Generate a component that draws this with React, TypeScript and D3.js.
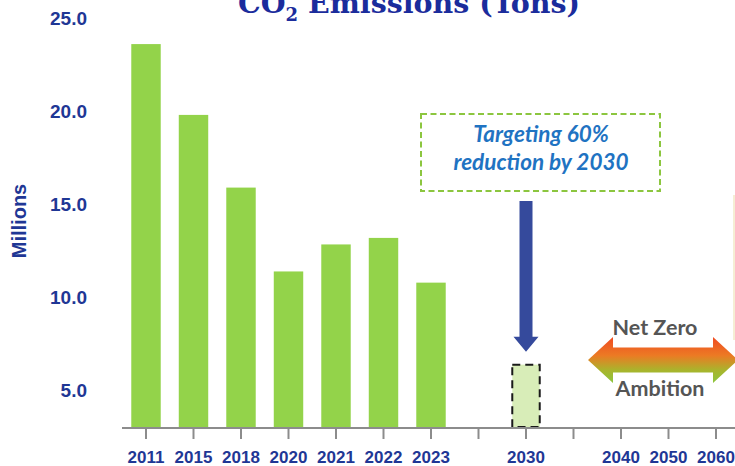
import React from "react";
import * as d3 from "d3";

// Emissions by year, in millions of tons
const years = ["2011", "2015", "2018", "2020", "2021", "2022", "2023"];
const emissions = [23.6, 19.8, 15.9, 11.4, 12.85, 13.2, 10.8];
const targetYear = "2030";
const targetValue = 6.4;
// Axis slots, gaps included so the future years sit apart
const slots = ["2011", "2015", "2018", "2020", "2021", "2022", "2023", "gap1", "2030", "gap2", "2040", "2050", "2060"];
const yTicks = [5, 10, 15, 20, 25];

const W = 735;
const H = 466;

export default function App() {
  const x = d3
    .scaleBand<string>()
    .domain(slots)
    .range([122.25, 739.75])
    .paddingInner(0.38)
    .paddingOuter(0.19);
  const y = d3.scaleLinear().domain([3, 25]).range([428, 18]);
  const base = y(3);
  const bw = x.bandwidth();
  const cx = (s: string) => (x(s) as number) + bw / 2;

  const blue = "#1f3795";
  const green = "#93d34a";

  // callout arrow pointing at the 2030 target
  const ax = cx(targetYear);
  const tipY = y(targetValue) - 13;
  const shaftTop = 201;
  const headLen = 15;
  const shaftHalf = 6.5;
  const headHalf = 12.5;
  const downArrow = [
    [ax - shaftHalf, shaftTop],
    [ax + shaftHalf, shaftTop],
    [ax + shaftHalf, tipY - headLen],
    [ax + headHalf, tipY - headLen],
    [ax, tipY],
    [ax - headHalf, tipY - headLen],
    [ax - shaftHalf, tipY - headLen],
  ];

  // double-headed "net zero" arrow spanning the long-range years
  const l = 588;
  const r = 738;
  const mid = 360;
  const hl = 25;
  const sh = 12.5;
  const hh = 23;
  const dblArrow = [
    [l, mid],
    [l + hl, mid - hh],
    [l + hl, mid - sh],
    [r - hl, mid - sh],
    [r - hl, mid - hh],
    [r, mid],
    [r - hl, mid + hh],
    [r - hl, mid + sh],
    [l + hl, mid + sh],
    [l + hl, mid + hh],
  ];
  const line = d3.line();

  return (
    <svg
      width={W}
      height={H}
      viewBox={`0 0 ${W} ${H}`}
      style={{ position: "absolute", left: 0, top: 0, background: "#fff" }}
    >
      <defs>
        <linearGradient id="nzGrad" x1="0" y1="0" x2="0" y2="1">
          <stop offset="0" stopColor="#f04a22" />
          <stop offset="0.4" stopColor="#ec7a24" />
          <stop offset="0.72" stopColor="#a9b42c" />
          <stop offset="1" stopColor="#8cc63f" />
        </linearGradient>
      </defs>

      {/* title */}
      <text
        x={409}
        y={13}
        textAnchor="middle"
        fontFamily="'DejaVu Serif', 'Liberation Serif', serif"
        fontWeight="bold"
        fontSize={28.5}
        fill="#1b2c9c"
      >
        CO<tspan fontSize={18} dy={8}>2</tspan>
        <tspan dy={-8}> Emissions (Tons)</tspan>
      </text>

      {/* y labels */}
      {yTicks.map((t) => (
        <text
          key={t}
          x={87}
          y={y(t)}
          dominantBaseline="central"
          textAnchor="end"
          fontFamily="'Liberation Sans', Arial, sans-serif"
          fontWeight="bold"
          fontSize={19}
          fill={blue}
        >
          {t.toFixed(1)}
        </text>
      ))}
      <text
        transform="translate(19,221) rotate(-90)"
        textAnchor="middle"
        dominantBaseline="central"
        fontFamily="'Liberation Sans', Arial, sans-serif"
        fontWeight="bold"
        fontSize={20}
        fill={blue}
      >
        Millions
      </text>

      {/* bars */}
      {years.map((yr, i) => (
        <rect
          key={yr}
          x={x(yr)}
          y={y(emissions[i])}
          width={bw}
          height={base - 1 - y(emissions[i])}
          fill={green}
        />
      ))}

      {/* 2030 target bar */}
      <rect
        x={(x(targetYear) as number) + 1}
        y={y(targetValue)}
        width={bw - 2}
        height={base - 1 - y(targetValue)}
        fill="#d8edb8"
        stroke="#1a1a1a"
        strokeWidth={2}
        strokeDasharray="8 5"
      />

      {/* axis */}
      <line x1={122} x2={W} y1={base} y2={base} stroke="#8c8c8c" strokeWidth={2} />
      {slots.map((s) => (
        <line key={s} x1={cx(s)} x2={cx(s)} y1={base} y2={base + 11} stroke="#8c8c8c" strokeWidth={2} />
      ))}
      {slots
        .filter((s) => !s.startsWith("gap"))
        .map((s) => (
          <text
            key={s}
            x={cx(s)}
            y={457}
            dominantBaseline="central"
            textAnchor="middle"
            fontFamily="'Liberation Sans', Arial, sans-serif"
            fontWeight="bold"
            fontSize={17}
            fill={blue}
          >
            {s}
          </text>
        ))}

      {/* target callout */}
      <rect
        x={421}
        y={114}
        width={239}
        height={77}
        fill="none"
        stroke="#8cc63f"
        strokeWidth={2}
        strokeDasharray="6 3.5"
      />
      <g
        fontFamily="Lato, 'Noto Sans', sans-serif"
        fontWeight="bold"
        fontStyle="italic"
        fontSize={22.5}
        fill="#1f73c2"
        textAnchor="middle"
      >
        <text x={541} y={142}>Targeting 60%</text>
        <text x={541} y={170}>reduction by 2030</text>
      </g>
      <path d={line(downArrow as [number, number][]) + "Z"} fill="#354a9c" />

      {/* net zero ambition */}
      <path d={line(dblArrow as [number, number][]) + "Z"} fill="url(#nzGrad)" />
      <g fontFamily="Lato, 'Noto Sans', sans-serif" fontWeight="bold" fontSize={21.5} fill="#555" textAnchor="middle">
        <text x={655} y={335}>Net Zero</text>
        <text x={660} y={396}>Ambition</text>
      </g>
      <line x1={734} x2={734} y1={195} y2={340} stroke="#f2e8c6" strokeWidth={1.5} />
    </svg>
  );
}
